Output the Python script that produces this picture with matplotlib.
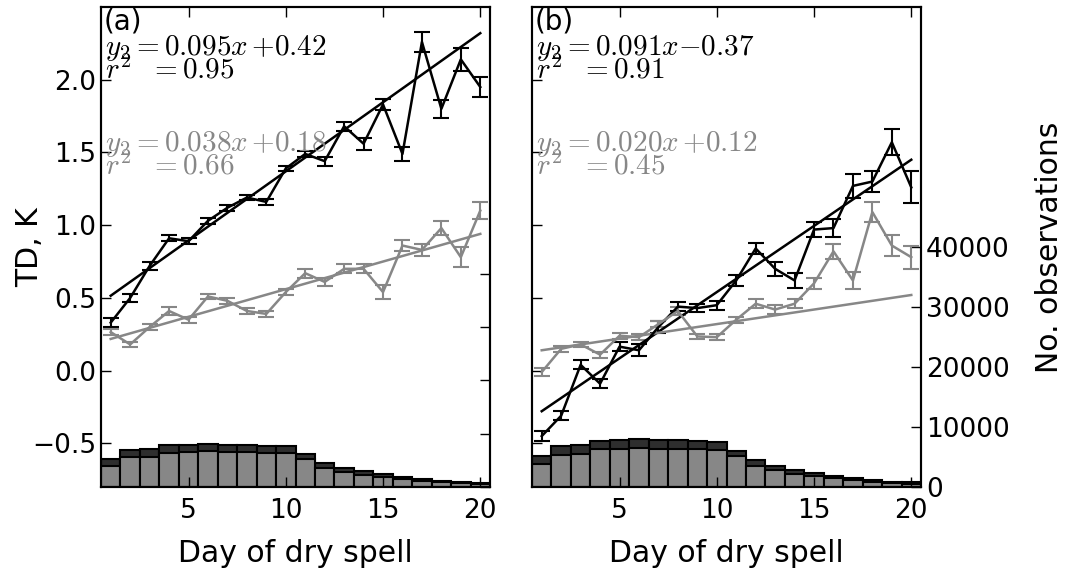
import numpy as np
import matplotlib
matplotlib.use("Agg")
import matplotlib.pyplot as plt

plt.rcParams["font.family"] = ["DejaVu Sans"]
plt.rcParams["mathtext.fontset"] = "cm"
plt.rcParams["font.size"] = 19

# Day of dry spell
days = [1, 2, 3, 4, 5, 6, 7, 8, 9, 10, 11, 12, 13, 14, 15, 16, 17, 18, 19, 20]

# Panel (a) temperature difference [K]
td_a_black = [0.33, 0.50, 0.72, 0.91, 0.89, 1.03, 1.12, 1.19, 1.16, 1.39,
              1.49, 1.44, 1.68, 1.56, 1.83, 1.49, 2.26, 1.80, 2.14, 1.95]
err_a_black = [0.03, 0.03, 0.03, 0.02, 0.02, 0.02, 0.02, 0.02, 0.02, 0.02,
               0.02, 0.03, 0.03, 0.04, 0.04, 0.05, 0.07, 0.06, 0.08, 0.07]
td_a_grey = [0.265, 0.18, 0.30, 0.41, 0.35, 0.51, 0.48, 0.41, 0.39, 0.54,
             0.67, 0.61, 0.70, 0.70, 0.54, 0.86, 0.83, 0.98, 0.78, 1.10]
err_a_grey = [0.02, 0.02, 0.02, 0.03, 0.02, 0.02, 0.02, 0.02, 0.02, 0.02,
              0.03, 0.03, 0.03, 0.03, 0.05, 0.04, 0.04, 0.05, 0.07, 0.06]

# Panel (b) temperature difference [K]
td_b_black = [-0.45, -0.31, 0.04, -0.09, 0.165, 0.14, 0.30, 0.44, 0.43, 0.45,
              0.62, 0.84, 0.70, 0.62, 0.97, 0.98, 1.27, 1.30, 1.57, 1.26]
err_b_black = [0.035, 0.03, 0.03, 0.03, 0.03, 0.04, 0.04, 0.03, 0.03, 0.03,
               0.04, 0.04, 0.05, 0.05, 0.05, 0.06, 0.08, 0.07, 0.09, 0.11]
td_b_grey = [-0.01, 0.15, 0.18, 0.11, 0.24, 0.23, 0.32, 0.41, 0.235, 0.23,
             0.35, 0.46, 0.42, 0.46, 0.60, 0.82, 0.62, 1.09, 0.86, 0.78]
err_b_grey = [0.03, 0.02, 0.02, 0.02, 0.02, 0.02, 0.02, 0.03, 0.02, 0.02,
              0.02, 0.03, 0.03, 0.03, 0.04, 0.05, 0.06, 0.07, 0.07, 0.08]

# Number of observations
obs_a_total = [5230, 6970, 7050, 7790, 7900, 8090, 7850, 7850, 7720, 7720,
               6220, 4540, 3600, 2990, 2430, 1930, 1550, 1180, 930, 800]
obs_a_sub = [3930, 5550, 5660, 6410, 6490, 6670, 6490, 6490, 6410, 6410,
             5230, 3500, 2860, 2240, 1810, 1440, 1180, 880, 690, 560]
obs_b_total = [5110, 6900, 7000, 7670, 7780, 8000, 7780, 7780, 7670, 7450,
               6000, 4450, 3500, 2900, 2330, 1900, 1450, 1110, 900, 780]
obs_b_sub = [3780, 5330, 5570, 6330, 6330, 6570, 6330, 6330, 6330, 6230,
             5110, 3570, 2780, 2230, 1780, 1450, 1110, 900, 670, 560]

# Regression fits (slope, intercept, r2)
fit_a_black = (0.095, 0.42, 0.95)
fit_a_grey = (0.038, 0.18, 0.66)
fit_b_black = (0.091, -0.37, 0.91)
fit_b_grey = (0.020, 0.12, 0.45)

grey = "0.53"

fig = plt.figure(figsize=(10.65, 5.68), dpi=100)
ax_a = fig.add_axes([101 / 1065, 81 / 568, 389 / 1065, 480 / 568])
ax_b = fig.add_axes([532 / 1065, 81 / 568, 389 / 1065, 480 / 568])

panels = [
	(ax_a, "(a)", td_a_black, err_a_black, td_a_grey, err_a_grey,
	 obs_a_total, obs_a_sub, fit_a_black, fit_a_grey, 90000),
	(ax_b, "(b)", td_b_black, err_b_black, td_b_grey, err_b_grey,
	 obs_b_total, obs_b_sub, fit_b_black, fit_b_grey, 80000),
]

x = np.array(days)
twins = []

for (ax, tag, yb, eb, yg, eg, tot, sub, fb, fg, omax) in panels:

	# Observation counts on twin axis
	tw = ax.twinx()
	twins.append(tw)
	tw.bar(x, tot, width=1.0, color="0.18", edgecolor="k", linewidth=1.5)
	tw.bar(x, sub, width=1.0, color="0.53", edgecolor="k", linewidth=1.5)
	tw.set_ylim(0, omax)
	tw.set_yticks([0, 10000, 20000, 30000, 40000])
	tw.tick_params(axis="y", direction="in", length=7, width=1, labelsize=19)
	ax.set_zorder(tw.get_zorder() + 1)
	ax.patch.set_visible(False)

	# Mean TD with error bars
	for y, e, col in ((yb, eb, "k"), (yg, eg, grey)):
		ax.errorbar(x, y, yerr=e, fmt="-", color=col, lw=1.8,
		            elinewidth=1.5, capsize=6, capthick=1.5)

	# Fits
	for (m, c, r2), col, ytop in ((fb, "k", 0.90), (fg, grey, 0.699)):
		ax.plot([x[0], x[-1]], [m * x[0] + c, m * x[-1] + c], color=col, lw=1.8)
		if c >= 0:
			inter = r"\,{+}%.2f" % c
		else:
			inter = r"{-}%.2f" % abs(c)
		ax.text(0.01, ytop,
		        r"$y_2{=}%.3fx%s$" % (m, inter),
		        transform=ax.transAxes, color=col, fontsize=21, va="baseline")
		ax.text(0.01, ytop - 0.048,
		        r"$r^2\ \ {=}%.2f$" % r2,
		        transform=ax.transAxes, color=col, fontsize=21, va="baseline")

	ax.text(0.008, 0.998, tag, transform=ax.transAxes, va="top", ha="left",
	        fontsize=20)

	ax.set_xlim(0.5, 20.5)
	ax.set_ylim(-0.8, 2.5)
	ax.set_xticks([5, 10, 15, 20])
	ax.set_yticks([-0.5, 0.0, 0.5, 1.0, 1.5, 2.0])
	ax.tick_params(axis="x", direction="in", length=7, width=1, top=True,
	               labelsize=19, pad=8)
	ax.tick_params(axis="y", direction="in", length=7, width=1, labelsize=19)
	ax.set_xlabel("Day of dry spell", fontsize=21.5, labelpad=11)
	for s in list(ax.spines.values()) + list(tw.spines.values()):
		s.set_linewidth(1.5)

ax_a.set_ylabel("TD, K", fontsize=21.5)
ax_a.yaxis.set_label_coords(-0.147, 0.5)
ax_b.set_yticklabels([])
twins[0].set_yticklabels([])
twins[1].set_ylabel("No. observations", fontsize=21.5)
twins[1].yaxis.set_label_coords(1.293, 0.5)

fig.savefig("out.png", dpi=100)
